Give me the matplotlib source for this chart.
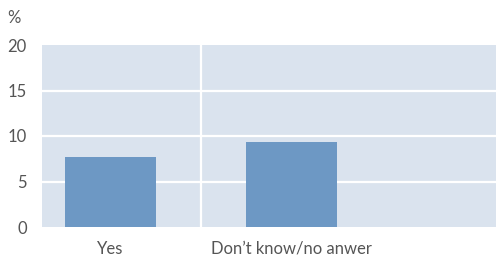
import matplotlib
matplotlib.use("Agg")
import matplotlib.pyplot as plt

categories = ["Yes", "Don’t know/no anwer"]
values = [7.7, 9.3]
yticks = [0, 5, 10, 15, 20]

plt.rcParams['font.family'] = ['Lato', 'DejaVu Sans']
fig = plt.figure(figsize=(4.96, 2.59), dpi=100)
ax = fig.add_axes([42/496, 32/259, 454/496, 182/259])
ax.set_facecolor('#dae3ee')
x = list(range(len(categories)))
ax.bar(x, values, width=0.5, color='#6d98c4', zorder=3)
ax.set_xlim(-0.378, 2.13)
ax.set_ylim(0, 20)
ax.set_yticks(yticks)
ax.set_yticklabels([str(t) for t in yticks])
ax.set_xticks(x)
ax.set_xticklabels(categories)
for t in yticks[1:4]:
    ax.axhline(t, color='white', lw=1.6, zorder=2)
ax.axvline(0.5, color='white', lw=1.6, zorder=2)
for s in ax.spines.values():
    s.set_visible(False)
ax.tick_params(length=0, labelsize=12, colors='#555555', pad=11)
ax.tick_params(axis='x', pad=10)
fig.text(14/496, 1 - 18/259, '%', fontsize=12, color='#555555', va='center', ha='center')
fig.savefig('out.png', dpi=100)
